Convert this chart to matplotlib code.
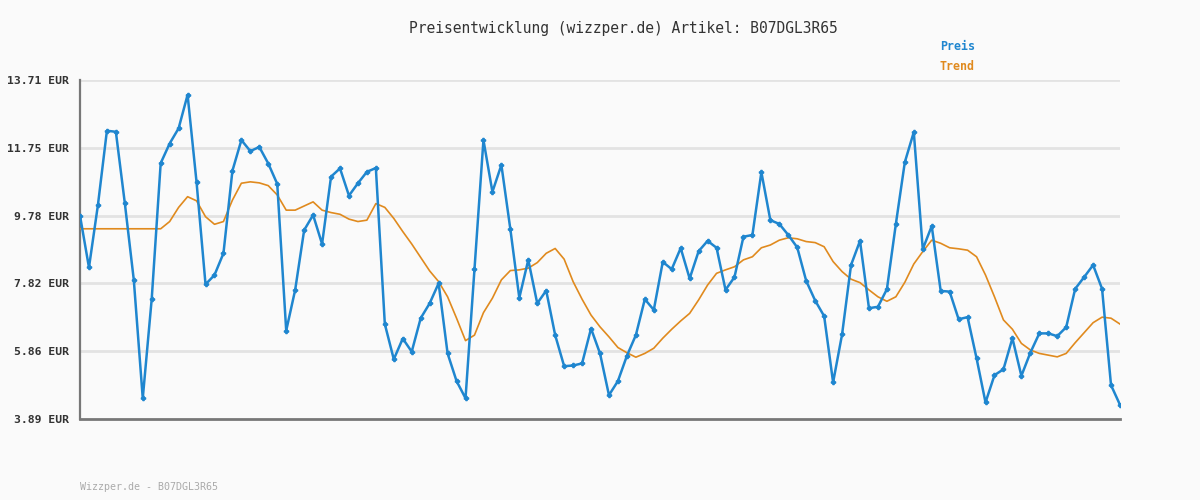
import numpy as np
import matplotlib
matplotlib.use("Agg")
import matplotlib.pyplot as plt

# Preisdaten
preis = [9.78, 8.28, 10.09, 12.24, 12.21, 10.14, 7.92, 4.49, 7.37, 11.30,
         11.87, 12.31, 13.28, 10.75, 7.79, 8.06, 8.69, 11.08, 11.97, 11.65,
         11.77, 11.29, 10.70, 6.45, 7.63, 9.36, 9.80, 8.96, 10.91, 11.15,
         10.36, 10.72, 11.05, 11.16, 6.64, 5.62, 6.22, 5.84, 6.81, 7.24,
         7.82, 5.79, 4.99, 4.49, 8.23, 11.97, 10.47, 11.25, 9.39, 7.40,
         8.50, 7.24, 7.61, 6.32, 5.42, 5.44, 5.50, 6.51, 5.79, 4.58,
         4.99, 5.72, 6.32, 7.36, 7.05, 8.44, 8.23, 8.84, 7.96, 8.75,
         9.05, 8.85, 7.63, 8.00, 9.17, 9.22, 11.04, 9.65, 9.54, 9.22,
         8.86, 7.89, 7.32, 6.87, 4.95, 6.34, 8.35, 9.05, 7.10, 7.14,
         7.65, 9.54, 11.33, 12.20, 8.81, 9.48, 7.60, 7.58, 6.78, 6.84,
         5.65, 4.37, 5.16, 5.33, 6.23, 5.14, 5.81, 6.37, 6.37, 6.29,
         6.55, 7.66, 8.00, 8.35, 7.66, 4.87, 4.30]

trend = [9.40, 9.40, 9.40, 9.40, 9.40, 9.40, 9.40, 9.40, 9.40, 9.40,
         9.61, 10.02, 10.33, 10.21, 9.75, 9.53, 9.61, 10.23, 10.72, 10.76,
         10.73, 10.65, 10.38, 9.94, 9.94, 10.06, 10.18, 9.94, 9.87, 9.82,
         9.68, 9.61, 9.65, 10.13, 10.02, 9.70, 9.32, 8.96, 8.57, 8.18,
         7.87, 7.43, 6.81, 6.16, 6.32, 6.97, 7.39, 7.92, 8.19, 8.21,
         8.26, 8.42, 8.69, 8.83, 8.52, 7.87, 7.36, 6.90, 6.56, 6.27,
         5.96, 5.81, 5.68, 5.79, 5.94, 6.23, 6.49, 6.73, 6.95, 7.34,
         7.77, 8.11, 8.21, 8.30, 8.50, 8.59, 8.85, 8.93, 9.07, 9.14,
         9.11, 9.03, 9.00, 8.88, 8.45, 8.16, 7.94, 7.84, 7.63, 7.43,
         7.30, 7.43, 7.85, 8.38, 8.74, 9.07, 8.98, 8.85, 8.82, 8.78,
         8.59, 8.06, 7.43, 6.76, 6.49, 6.08, 5.89, 5.79, 5.74, 5.69,
         5.79, 6.10, 6.39, 6.68, 6.84, 6.81, 6.64]

y_ticks = [3.89, 5.86, 7.82, 9.78, 11.75, 13.71]
y_labels = ["3.89 EUR", "5.86 EUR", "7.82 EUR", "9.78 EUR", "11.75 EUR", "13.71 EUR"]

mono = "DejaVu Sans Mono"
bg = "#fafafa"
blau = "#1f86cf"
orange = "#e08a1e"

fig = plt.figure(figsize=(12, 5), dpi=100, facecolor=bg)
ax = fig.add_axes([80 / 1200, 1 - 419 / 500, 1040 / 1200, 339 / 500])
ax.set_facecolor(bg)

x = np.arange(len(preis))
ax.plot(x, trend, color=orange, lw=1.2, zorder=3)
ax.plot(x, preis, color=blau, lw=1.8, marker="P", markersize=3, zorder=4)

ax.set_xlim(0, len(preis) - 1)
ax.set_ylim(y_ticks[0], y_ticks[-1])
ax.set_yticks(y_ticks)
ax.set_yticklabels(y_labels, fontfamily=mono, fontsize=8.2, fontweight="bold",
                   color="#333333")
ax.set_xticks([])
ax.tick_params(axis="y", length=0, pad=8)
for t in y_ticks[1:]:
    ax.axhline(t, color="#e3e3e3", lw=2, zorder=1)

for s in ["top", "right"]:
    ax.spines[s].set_visible(False)
ax.spines["left"].set_color("#777777")
ax.spines["left"].set_linewidth(1.6)
ax.spines["bottom"].set_color("#777777")
ax.spines["bottom"].set_linewidth(2)

fig.text(623 / 1200, 1 - 28 / 500, "Preisentwicklung (wizzper.de) Artikel: B07DGL3R65",
         ha="center", va="center", fontfamily=mono, fontsize=10.5, color="#333333")
fig.text(940 / 1200, 1 - 47 / 500, "Preis", ha="left", va="center",
         fontfamily=mono, fontsize=8.4, fontweight="bold", color=blau)
fig.text(940 / 1200, 1 - 67 / 500, "Trend", ha="left", va="center",
         fontfamily=mono, fontsize=8.4, fontweight="bold", color=orange)
fig.text(80 / 1200, 1 - 487 / 500, "Wizzper.de - B07DGL3R65", ha="left", va="center",
         fontfamily=mono, fontsize=7.2, color="#aaaaaa")

fig.savefig("out.png", dpi=100, facecolor=bg)
